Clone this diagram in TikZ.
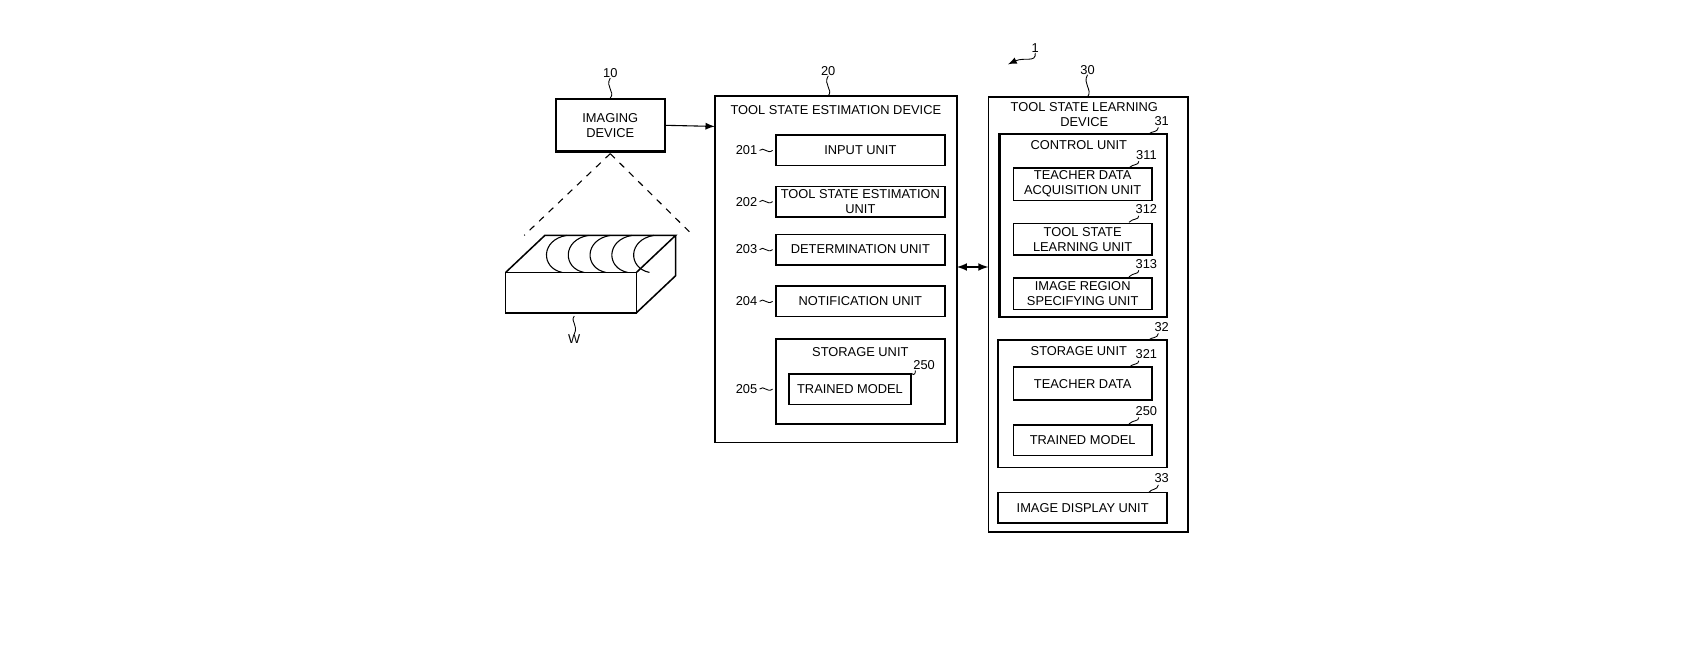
\documentclass[tikz,border=0pt]{standalone}
\usepackage{fontspec}
\setmainfont{Liberation Sans}
\begin{document}
\begin{tikzpicture}[x=0.5pt,y=-0.5pt,
  box/.style={draw,line width=0.7pt},
  lbl/.style={font=\fontsize{5.9}{6.9}\selectfont,align=center,inner sep=0pt},
  sq/.style={line width=0.4pt}]
\useasboundingbox (0,0) rectangle (1560,596.5);
\tikzset{every node/.style={font=\fontsize{5.9}{6.9}\selectfont}}
% imaging device
\node[box,line width=1pt,minimum width=50pt,minimum height=24pt,align=center,inner sep=0pt] (img) at (560,115) {IMAGING\\DEVICE};
\node[lbl] (l10) at (560,67) {10};
\draw[sq] (l10.south) .. controls (555,80) and (565,84) .. (img.north);
\coordinate (cone) at (560,141);
\coordinate (cl) at (481,216);
\coordinate (cr) at (636,216);
\draw[dashed,line width=0.5pt] (cone) -- (cl) (cone) -- (cr);
% workpiece
\draw[line width=0.7pt] (464,250) rectangle (584,287);
\draw[line width=0.7pt] (464,250) -- (500,216) -- (620,216) -- (584,250);
\draw[line width=0.7pt] (620,216) -- (620,253) -- (584,287);
\foreach \x in {520,540,560,580,600}{
  \draw[line width=0.5pt] (\x,216) .. controls (\x-24,220) and (\x-24,246) .. (\x-4,250);
}
\node[lbl] (lw) at (527,311) {W};
\draw[sq] (527,290) .. controls (523,295) and (531,298) .. (lw.north);
% device 20
\draw[box] (656,88) rectangle (878,406);
\node[lbl] at (767,101) {TOOL STATE ESTIMATION DEVICE};
\node[lbl] (l20) at (760,65) {20};
\draw[sq] (l20.south) .. controls (755,78) and (765,82) .. (760,88);
\node[box,minimum width=77.5pt,minimum height=14pt,inner sep=0pt] (u201) at (789.5,138) {INPUT UNIT};
\node[box,minimum width=77.5pt,minimum height=14pt,inner sep=0pt,align=center] (u202) at (789.5,185) {TOOL STATE ESTIMATION\\UNIT};
\node[box,minimum width=77.5pt,minimum height=14pt,inner sep=0pt] (u203) at (789.5,229) {DETERMINATION UNIT};
\node[box,minimum width=77.5pt,minimum height=14pt,inner sep=0pt] (u204) at (789.5,276.5) {NOTIFICATION UNIT};
\draw[box] (712,311) rectangle (867,389);
\node[lbl] at (789.5,323) {STORAGE UNIT};
\node[box,minimum width=56pt,minimum height=14pt,inner sep=0pt] (tm1) at (780,357) {TRAINED MODEL};
\node[lbl] (l250a) at (848,335) {250};
\draw[sq] (840,340) .. controls (840,346) and (836,343) .. (tm1.north east);
\foreach \n/\y in {201/138,202/185,203/229,204/276.5,205/357}{
  \node[lbl] at (685,\y) {\n};
  \draw[sq] (697,\y) .. controls (701,\y-4) and (704,\y+4) .. (709,\y);
}
% arrows
\draw[line width=0.5pt,-latex] (img.east) -- (656,116);
\draw[line width=0.6pt,latex-latex] (878,245) -- (907,245);
% device 30
\draw[box] (907,89) rectangle (1090,488);
\node[lbl] at (995,105) {TOOL STATE LEARNING\\DEVICE};
\node[lbl] (l30) at (998,64) {30};
\draw[sq] (l30.south) .. controls (993,77) and (1003,82) .. (998,89);
\node[lbl] (l1) at (950,44) {1};
\coordinate (a1) at (925,59);
\draw[sq,-latex] (l1.south) .. controls (951,58) and (940,52) .. (a1);
% control unit
\draw[box,line width=1.1pt] (917,123) rectangle (1071,291);
\node[lbl] at (990,133) {CONTROL UNIT};
\node[lbl] (l31) at (1066,111) {31};
\draw[sq] (1063,117) .. controls (1062,122) and (1057,120) .. (1054,123);
\node[box,minimum width=63.5pt,minimum height=15pt,inner sep=0pt,align=center] (u311) at (993.5,169) {TEACHER DATA\\ACQUISITION UNIT};
\node[box,minimum width=63.5pt,minimum height=14.5pt,inner sep=0pt,align=center] (u312) at (993.5,219.5) {TOOL STATE\\LEARNING UNIT};
\node[box,minimum width=63.5pt,minimum height=14.5pt,inner sep=0pt,align=center] (u313) at (993.5,269.5) {IMAGE REGION\\SPECIFYING UNIT};
\foreach \n/\y in {311/142,312/192,313/242}{
  \node[lbl] at (1052,\y) {\n};
  \draw[sq] (1045,\y+6) .. controls (1045,\y+10) and (1040,\y+8) .. (1036,\y+12);
}
% storage 32
\draw[box] (916,312) rectangle (1071,429);
\node[lbl] at (990,322) {STORAGE UNIT};
\node[lbl] (l32) at (1066,300) {32};
\draw[sq] (1063,306) .. controls (1062,311) and (1057,309) .. (1054,312);
\node[box,minimum width=63.5pt,minimum height=15pt,inner sep=0pt] (u321) at (993.5,352) {TEACHER DATA};
\node[box,minimum width=63.5pt,minimum height=14pt,inner sep=0pt] (tm2) at (993.5,404) {TRAINED MODEL};
\foreach \n/\y in {321/325,250/377}{
  \node[lbl] at (1052,\y) {\n};
  \draw[sq] (1045,\y+6) .. controls (1045,\y+10) and (1040,\y+8) .. (1036,\y+12);
}
% display 33
\node[box,minimum width=77.5pt,minimum height=14pt,inner sep=0pt] (u33) at (993.5,466) {IMAGE DISPLAY UNIT};
\node[lbl] (l33) at (1066,439) {33};
\draw[sq] (1063,445) .. controls (1062,450) and (1057,448) .. (1054,452);
\end{tikzpicture}
\end{document}
